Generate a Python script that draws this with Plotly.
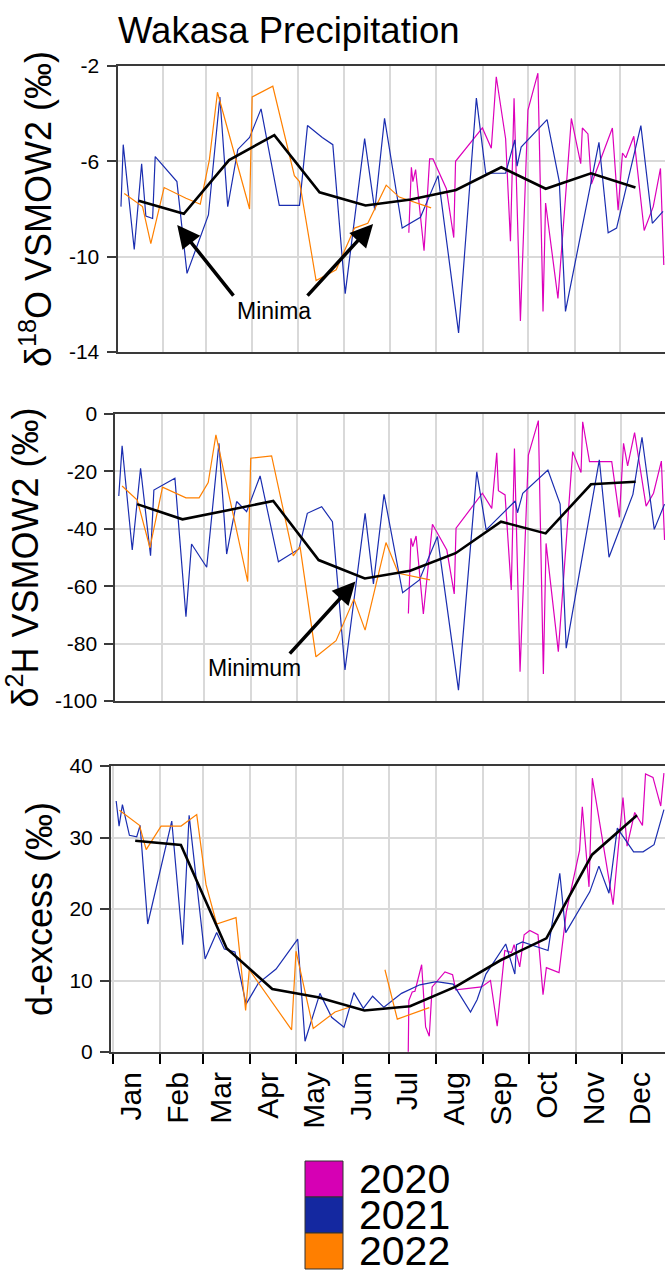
import plotly.graph_objects as go

# ---------------- data ----------------
MONTHS = ["Jan", "Feb", "Mar", "Apr", "May", "Jun", "Jul", "Aug", "Sep", "Oct", "Nov", "Dec"]
MONTH_START = [0, 31, 59, 90, 120, 151, 181, 212, 243, 273, 304, 334]
YEARS = ["2020", "2021", "2022"]
MEAN_DAY = [14.5, 44.5, 74.5, 104.5, 134.5, 165, 195, 225, 255, 284.5, 314.5, 344]

D18O_TICKS = [-14, -10, -6, -2]
D2H_TICKS = [-100, -80, -60, -40, -20, 0]
DX_TICKS = [0, 10, 20, 30, 40]

# delta 18O
D18O_2020_DAY = [193.7, 195.4, 196.4, 198.2, 203.8, 207.5, 209.7, 218.6, 223.5, 224.7, 242.5, 248.4,
                 251.7, 257.9, 261.1, 263.5, 267.7, 272.7, 279.3, 282.7, 284.4, 292.6, 301.5, 307.7,
                 308.8, 312.5, 314.8, 328.7, 332.5, 335.4, 337.6, 342.9, 349.8, 355.8, 360.6, 362.8]
D18O_2020 = [-9.0, -6.25, -6.85, -6.35, -9.75, -5.9, -5.9, -7.15, -9.2, -6.0, -4.6, -5.45,
             -2.45, -5.05, -9.35, -3.35, -12.7, -3.85, -2.3, -12.3, -7.75, -11.75, -4.2, -6.1,
             -4.6, -4.85, -6.95, -4.6, -8.05, -5.65, -5.85, -4.95, -8.9, -7.9, -6.3, -10.35]
D18O_2021_DAY = [2.8, 4.3, 11.6, 16.5, 19.3, 23.8, 25.5, 39.9, 46.6, 60.8, 68.4, 73.6, 80.3, 88.1,
                 95.7, 107.8, 121.2, 126.5, 136.3, 143.3, 151.5, 164.4, 171.1, 177.6, 189.3, 201.4,
                 213.1, 226.7, 238.5, 244.7, 257.9, 264.0, 265.5, 268.2, 285.4, 293.5, 297.6, 319.8,
                 325.9, 331.5, 347.6, 355.2, 362.3]
D18O_2021 = [-7.9, -5.3, -9.7, -6.1, -8.3, -8.4, -5.8, -6.85, -10.7, -8.25, -3.3, -7.9, -5.5, -5.0,
             -3.8, -7.85, -7.85, -4.5, -5.0, -5.3, -11.55, -5.05, -8.05, -4.2, -8.8, -8.35,
             -6.6, -13.2, -3.35, -6.5, -6.5, -5.1, -6.2, -5.4, -4.25, -6.85, -12.3, -5.2,
             -9.0, -8.8, -4.5, -8.6, -8.1]
D18O_2022_DAY = [5.0, 17.1, 22.6, 31.4, 45.9, 55.4, 61.4, 66.8, 88.1, 89.8, 103.5, 117.8, 121.2,
                 132.2, 145.5, 157.7, 166.5, 178.7, 187.3, 208.5]
D18O_2022 = [-7.35, -7.9, -9.45, -7.1, -7.55, -7.8, -5.95, -3.1, -8.0, -3.3, -2.85, -6.6, -6.85,
             -11.0, -10.55, -8.8, -8.6, -7.0, -7.5, -7.95]
D18O_MEAN = [-7.65, -8.2, -5.95, -4.9, -7.3, -7.85, -7.6, -7.2, -6.25, -7.15, -6.5, -7.1]

# delta 2H
D2H_2020_DAY = [193.8, 195.5, 196.7, 198.9, 203.7, 209.7, 219.2, 224.1, 225.3, 242.7, 248.9, 252.2,
                253.3, 257.7, 261.8, 263.9, 267.6, 273.1, 279.7, 283.0, 284.8, 292.9, 302.4, 307.9,
                309.0, 313.5, 328.2, 333.3, 336.0, 338.7, 343.3, 350.9, 355.8, 361.0, 363.1]
D2H_2020 = [-69.5, -43.3, -46.2, -42.5, -69.7, -38.4, -47.4, -62.7, -39.8, -27.6, -32.9, -13.5,
            -26.7, -28.2, -61.3, -12.0, -89.8, -14.3, -2.3, -90.6, -45.1, -82.8, -13.1, -20.4,
            -2.7, -16.6, -16.6, -36.0, -10.2, -18.1, -6.5, -32.1, -27.6, -16.4, -43.9]
D2H_2021_DAY = [2.4, 4.6, 11.3, 16.8, 23.4, 25.6, 39.5, 46.8, 50.5, 60.5, 68.6, 73.7, 80.3, 86.9,
                95.8, 107.9, 121.5, 127.0, 136.5, 143.6, 151.9, 165.2, 170.7, 177.7, 190.0, 201.1,
                213.0, 226.9, 239.0, 245.2, 264.4, 265.9, 269.4, 286.0, 294.1, 298.1, 320.0, 326.4,
                342.2, 348.2, 356.3, 363.1]
D2H_2021 = [-28.6, -11.1, -47.4, -18.9, -49.4, -26.5, -22.4, -70.6, -45.3, -53.4, -10.2, -48.8,
            -30.5, -34.0, -21.6, -51.5, -47.0, -34.6, -32.3, -37.5, -89.2, -34.6, -59.2, -28.0,
            -62.3, -57.8, -42.7, -96.2, -20.1, -40.4, -30.3, -34.4, -27.6, -19.5, -31.4, -81.6,
            -16.0, -49.9, -28.0, -8.1, -40.2, -31.4]
D2H_2022_DAY = [4.6, 14.6, 23.0, 31.3, 46.8, 55.5, 61.5, 66.6, 87.6, 89.6, 103.4, 117.7, 122.2,
                132.7, 146.0, 157.8, 165.2, 179.0, 187.2, 208.1]
D2H_2022 = [-25.1, -30.0, -46.6, -25.5, -29.2, -29.2, -23.9, -7.3, -58.4, -15.4, -14.6, -49.4,
            -46.2, -84.6, -79.0, -64.5, -75.3, -44.8, -55.5, -57.8]
D2H_MEAN = [-31.4, -36.7, -33.5, -30.3, -50.9, -57.3, -54.6, -48.5, -37.5, -41.6, -24.5, -23.6]

# d-excess
DX_2020_DAY = [193.8, 194.2, 196.4, 198.2, 202.6, 205.2, 207.6, 209.5, 217.9, 222.9, 225, 241.9,
               247.8, 252.2, 257.2, 261.6, 263.3, 267, 269.9, 273.6, 279, 282.3, 284.5, 292.8,
               297.6, 306.3, 308.1, 312.5, 314.7, 328.3, 334.8, 337.5, 342.5, 347.6, 349.6,
               354.5, 359.6, 361.7]
DX_2020 = [0.05, 7.2, 8.4, 8.5, 12.2, 3.5, 2.2, 9.1, 11.2, 10.8, 8.7, 9.1, 10.0, 3.6, 14.2, 13.9,
           15.0, 11.9, 16.4, 17.0, 16.4, 8.0, 11.8, 11.1, 19.6, 28.2, 34.3, 23.1, 38.3, 20.6,
           35.6, 28.8, 33.5, 31.7, 38.9, 38.4, 34.4, 39.0]
DX_2021_DAY = [2, 3.9, 6.1, 10.7, 15.5, 17.7, 22.7, 38.5, 45.7, 49.9, 60.4, 68, 73, 80, 87.3, 95.3,
               107, 121.2, 126, 135.8, 143.5, 151.6, 158.1, 164.3, 170.4, 177.8, 189.4, 201.4,
               212.3, 223.3, 234.7, 239, 244.8, 257.8, 263.8, 264.9, 268.8, 285.6, 293.3, 297.2,
               313, 319, 325.6, 331.1, 341.8, 348, 355.2, 361.7]
DX_2021 = [35.1, 31.6, 34.6, 30.3, 30.1, 31.7, 17.9, 32.3, 15.0, 33.1, 13.0, 16.7, 14.4, 14.0,
           6.7, 9.6, 11.6, 15.8, 1.5, 8.2, 4.85, 3.45, 8.3, 6.1, 7.8, 6.25, 8.2, 9.4, 9.85, 9.5,
           5.6, 7.3, 10.9, 15.1, 10.9, 15.0, 15.4, 14.2, 25.0, 16.7, 22.4, 26.0, 22.2, 31.3,
           28.0, 28.0, 29.0, 33.9]
DX_2022_DAY = [4.1, 17.3, 21.7, 31.5, 44.6, 54.9, 61, 68, 80.7, 87, 89.4, 117.2, 120.1, 131.4,
               145.7, 155.5, None, 178.5, 186.6, 207.6]
DX_2022 = [33.8, 31.7, 28.3, 31.6, 31.6, 33.2, 23.4, 17.9, 18.8, 5.8, 11.5, 3.1, 14.1, 3.3,
           5.6, 6.3, None, 11.5, 4.6, 6.2]
DX_MEAN = [29.55, 28.95, 14.5, 8.8, 7.65, 5.8, 6.4, 9.15, 12.9, 15.9, 27.6, 33.1]

# ---------------- styling ----------------
W, H = 665, 1272
FONT = "Liberation Sans, Arial, sans-serif"
COLORS = {"2020": "#DD00BB", "2021": "#1A2DB0", "2022": "#FF8000"}
LEGEND_COLORS = {"2020": "#D600B4", "2021": "#1428A0", "2022": "#FF7F00"}
AXIS_COLOR = "#3a3a3a"
GRID_COLOR = "#d9d9d9"

def py(px):
    return 1 - px / H

def pxx(px):
    return px / W

panels = [
    dict(data={"2020": (D18O_2020_DAY, D18O_2020), "2021": (D18O_2021_DAY, D18O_2021),
               "2022": (D18O_2022_DAY, D18O_2022)}, mean=D18O_MEAN,
         ydom=[py(352), py(66)], xleft=117.5, xrange=[0.5, 363.6], yrange=[-14, -2],
         ytick=D18O_TICKS, title="δ<sup>18</sup>O VSMOW2 (‰)"),
    dict(data={"2020": (D2H_2020_DAY, D2H_2020), "2021": (D2H_2021_DAY, D2H_2021),
               "2022": (D2H_2022_DAY, D2H_2022)}, mean=D2H_MEAN,
         ydom=[py(701), py(414)], xleft=115.3, xrange=[0.1, 363.4], yrange=[-100, 0],
         ytick=D2H_TICKS, title="δ<sup>2</sup>H VSMOW2 (‰)"),
    dict(data={"2020": (DX_2020_DAY, DX_2020), "2021": (DX_2021_DAY, DX_2021),
               "2022": (DX_2022_DAY, DX_2022)}, mean=DX_MEAN,
         ydom=[py(1052), py(766)], xleft=111, xrange=[-1.4, 362.4], yrange=[0, 40],
         ytick=DX_TICKS, title="d-excess (‰)"),
]

fig = go.Figure()
layout = {}
for i, p in enumerate(panels, start=1):
    xa = "x" if i == 1 else f"x{i}"
    ya = "y" if i == 1 else f"y{i}"
    for yr in YEARS:
        d, v = p["data"][yr]
        fig.add_trace(go.Scatter(x=d, y=v, xaxis=xa, yaxis=ya, mode="lines",
                                 line=dict(color=COLORS[yr], width=1.2),
                                 connectgaps=False, showlegend=False, name=yr))
    fig.add_trace(go.Scatter(x=MEAN_DAY, y=p["mean"], xaxis=xa, yaxis=ya, mode="lines",
                             line=dict(color="black", width=2.6), showlegend=False,
                             name="monthly mean"))
    xkey = "xaxis" if i == 1 else f"xaxis{i}"
    ykey = "yaxis" if i == 1 else f"yaxis{i}"
    xdict = dict(domain=[pxx(p["xleft"]), 1], range=p["xrange"], anchor=ya,
                 showline=True, mirror=True, linecolor=AXIS_COLOR, linewidth=2,
                 zeroline=False, fixedrange=True, automargin=False)
    if i < 3:
        xdict.update(tickmode="array", tickvals=MONTH_START, showticklabels=False, ticks="",
                     showgrid=True, gridcolor=GRID_COLOR, gridwidth=1.5)
    else:
        xdict.update(tickmode="array", tickvals=[m + 12 for m in MONTH_START], ticktext=MONTHS,
                     tickangle=-90, ticks="outside", ticklen=6, tickcolor="rgba(0,0,0,0)",
                     showgrid=False,
                     tickfont=dict(family=FONT, size=30, color="black"),
                     minor=dict(tickmode="array", tickvals=MONTH_START, ticks="outside",
                                ticklen=10, tickwidth=2, tickcolor="black",
                                showgrid=True, gridcolor=GRID_COLOR, gridwidth=1.5))
    layout[xkey] = xdict
    layout[ykey] = dict(domain=p["ydom"], range=p["yrange"], anchor=xa,
                        tickmode="array", tickvals=p["ytick"],
                        ticktext=[str(t) for t in p["ytick"]],
                        showline=True, mirror=False, linecolor=AXIS_COLOR, linewidth=2,
                        ticks="outside", ticklen=9, tickwidth=1.5, tickcolor=AXIS_COLOR,
                        ticklabelstandoff=3, automargin=False,
                        showgrid=True, gridcolor=GRID_COLOR, gridwidth=1.5, zeroline=False,
                        tickfont=dict(family=FONT, size=21, color="black"),
                        title=dict(text=p["title"], font=dict(family=FONT, size=36, color="black"),
                                   standoff=6),
                        fixedrange=True)

fig.update_layout(**layout)

annotations = [
    dict(x=104.0, y=-12.3, xref="x", yref="y", text="Minima", showarrow=False,
         font=dict(family=FONT, size=23, color="black")),
    dict(x=40.1, y=-8.67, ax=78.2, ay=-11.7, xref="x", yref="y", axref="x", ayref="y",
         text="", showarrow=True, arrowhead=2, arrowsize=1.3, arrowwidth=3.5, arrowcolor="black"),
    dict(x=170.0, y=-8.63, ax=125.6, ay=-11.7, xref="x", yref="y", axref="x", ayref="y",
         text="", showarrow=True, arrowhead=2, arrowsize=1.3, arrowwidth=3.5, arrowcolor="black"),
    dict(x=92.1, y=-88.5, xref="x2", yref="y2", text="Minimum", showarrow=False,
         font=dict(family=FONT, size=23, color="black")),
    dict(x=158.8, y=-58.4, ax=114.5, ay=-84.0, xref="x2", yref="y2", axref="x2", ayref="y2",
         text="", showarrow=True, arrowhead=2, arrowsize=1.3, arrowwidth=3.5, arrowcolor="black"),
]

# custom legend with large squares
shapes = []
leg_top = [1161, 1197, 1233]
for yr, top in zip(YEARS, leg_top):
    shapes.append(dict(type="rect", xref="paper", yref="paper",
                       x0=pxx(305), x1=pxx(343), y0=py(top + 36), y1=py(top),
                       fillcolor=LEGEND_COLORS[yr], line=dict(color="#333333", width=1)))
    annotations.append(dict(x=pxx(357), y=py(top + 18), xref="paper", yref="paper",
                            xanchor="left", yanchor="middle", text=yr, showarrow=False,
                            font=dict(family=FONT, size=41, color="black")))

fig.update_layout(
    width=W, height=H,
    margin=dict(l=0, r=0, t=0, b=0, autoexpand=False),
    paper_bgcolor="white", plot_bgcolor="white",
    showlegend=False,
    title=dict(text="Wakasa Precipitation", x=118 / W, xanchor="left", xref="container",
               y=py(30), yref="container", yanchor="middle",
               font=dict(family=FONT, size=36.5, color="black")),
    annotations=annotations, shapes=shapes,
)

fig.write_html("out.html", config={"displayModeBar": False},
               post_script="document.body.style.margin='0';document.body.style.overflow='hidden';")
